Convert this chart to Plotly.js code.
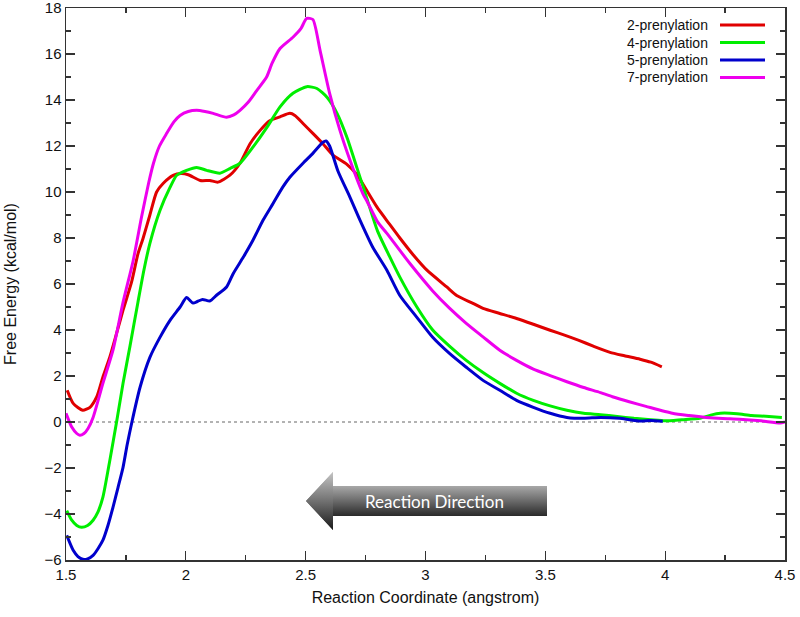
<!DOCTYPE html>
<html>
<head>
<meta charset="utf-8">
<script src="https://cdn.plot.ly/plotly-3.0.1.min.js"></script>
<style>html,body{margin:0;padding:0;background:#fff;}#chart{width:800px;height:617px;}</style>
</head>
<body>
<div id="chart"></div>
<script>
// ---- Data ----
const seriesNames = ["2-prenylation", "4-prenylation", "5-prenylation", "7-prenylation"];
const seriesColors = ["#e00000", "#00ee00", "#0000cc", "#ee00ee"];

const x2 = [1.505,1.53,1.57,1.60,1.628,1.654,1.683,1.711,1.738,1.774,1.8,1.822,1.85,1.878,1.905,1.947,1.98,2.01,2.06,2.10,2.134,2.184,2.226,2.268,2.31,2.35,2.393,2.434,2.455,2.489,2.53,2.572,2.614,2.672,2.714,2.75,2.797,2.85,2.893,2.95,3.006,3.09,3.13,3.198,3.24,3.31,3.38,3.45,3.52,3.58,3.64,3.70,3.77,3.83,3.895,3.94,3.986];
const y2 = [1.38,0.81,0.51,0.64,1.09,1.96,2.83,3.85,4.86,6.1,7.3,8.0,9.0,10.0,10.37,10.72,10.8,10.75,10.5,10.5,10.43,10.73,11.25,12.1,12.68,13.1,13.27,13.42,13.33,12.98,12.55,12.1,11.6,11.2,10.75,10.15,9.35,8.6,8.0,7.25,6.6,5.86,5.5,5.16,4.94,4.72,4.5,4.25,3.99,3.78,3.55,3.3,3.03,2.88,2.73,2.6,2.4];

const x4 = [1.503,1.524,1.545,1.565,1.59,1.613,1.633,1.654,1.683,1.711,1.738,1.767,1.80,1.825,1.85,1.892,1.934,1.962,2.003,2.045,2.087,2.142,2.184,2.226,2.28,2.339,2.393,2.447,2.505,2.547,2.589,2.631,2.672,2.714,2.756,2.80,2.85,2.893,2.964,3.03,3.10,3.17,3.24,3.31,3.38,3.45,3.52,3.59,3.66,3.73,3.80,3.87,3.94,4.0,4.07,4.145,4.19,4.23,4.3,4.36,4.42,4.487];
const y4 = [-3.85,-4.27,-4.5,-4.58,-4.5,-4.27,-3.92,-3.27,-1.66,0,1.68,3.3,5.2,6.6,7.77,9.2,10.2,10.73,10.94,11.07,10.94,10.82,11.02,11.25,11.95,12.82,13.7,14.29,14.58,14.5,14.12,13.42,12.38,11.05,9.7,8.3,7.2,6.3,5.0,4.0,3.3,2.68,2.15,1.68,1.25,0.94,0.7,0.51,0.38,0.32,0.24,0.16,0.1,0.05,0.1,0.16,0.3,0.38,0.36,0.28,0.25,0.2];

const x5 = [1.503,1.53,1.55,1.57,1.59,1.613,1.634,1.654,1.675,1.696,1.717,1.738,1.755,1.775,1.809,1.85,1.892,1.934,1.976,2.003,2.03,2.05,2.07,2.1,2.128,2.17,2.198,2.24,2.28,2.322,2.364,2.405,2.434,2.489,2.53,2.572,2.585,2.60,2.635,2.685,2.727,2.78,2.839,2.893,2.964,3.03,3.1,3.17,3.24,3.31,3.38,3.45,3.52,3.59,3.66,3.73,3.81,3.85,3.895,3.94,3.99];
const y5 = [-4.93,-5.58,-5.85,-5.97,-5.95,-5.8,-5.5,-5.14,-4.5,-3.71,-2.85,-1.97,-1.0,0,1.51,2.81,3.68,4.42,5.0,5.41,5.17,5.25,5.33,5.26,5.51,5.87,6.46,7.17,7.9,8.77,9.5,10.22,10.64,11.25,11.68,12.16,12.22,12.0,10.9,9.77,8.77,7.6,6.6,5.5,4.55,3.68,2.98,2.38,1.81,1.38,0.94,0.64,0.38,0.2,0.16,0.2,0.16,0.1,0.04,0.06,0.03];

const x7 = [1.50,1.524,1.545,1.558,1.575,1.592,1.613,1.654,1.696,1.738,1.78,1.815,1.845,1.865,1.89,1.92,1.95,1.976,2.01,2.045,2.08,2.114,2.17,2.2,2.226,2.26,2.295,2.337,2.36,2.393,2.447,2.48,2.504,2.53,2.56,2.6,2.643,2.685,2.74,2.756,2.8,2.839,2.935,3.03,3.10,3.17,3.24,3.31,3.38,3.45,3.52,3.59,3.66,3.73,3.78,3.85,3.92,4.03,4.1,4.17,4.24,4.31,4.4,4.48,4.5];
const y7 = [0.38,-0.22,-0.5,-0.58,-0.5,-0.28,0.2,1.68,3.12,5.2,7.0,8.9,10.4,11.25,12.0,12.55,13.05,13.33,13.5,13.55,13.5,13.42,13.25,13.35,13.55,13.9,14.4,15.0,15.6,16.24,16.73,17.1,17.55,17.5,16.16,14.29,12.68,11.38,9.9,9.6,8.7,8.2,6.89,5.7,4.95,4.29,3.7,3.12,2.68,2.3,2.02,1.75,1.5,1.28,1.1,0.88,0.68,0.38,0.28,0.2,0.15,0.12,0.05,-0.04,0.0];

const xTickVals = [1.5, 2, 2.5, 3, 3.5, 4, 4.5];
const yTickVals = [-6, -4, -2, 0, 2, 4, 6, 8, 10, 12, 14, 16, 18];
const xTitle = "Reaction Coordinate (angstrom)";
const yTitle = "Free Energy (kcal/mol)";
const arrowLabel = "Reaction Direction";

// ---- Build chart ----
const xs = [x2, x4, x5, x7];
const ys = [y2, y4, y5, y7];
const traces = xs.map((xv, i) => ({
  type: "scatter", mode: "lines", x: xv, y: ys[i], name: seriesNames[i],
  line: {color: seriesColors[i], width: 3, shape: "spline", smoothing: 0.6},
  showlegend: false, hoverinfo: "skip", cliponaxis: false
}));

const W = 800, H = 617, mL = 66, mR = 15, mT = 8, mB = 57;
const pw = W - mL - mR, ph = H - mT - mB;
const px2paper = px => (px - mL) / pw;
const py2paper = py => (H - mB - py) / ph;

const font = "'Liberation Sans', Arial, Helvetica, sans-serif";

// custom legend (text left, line sample right)
const legendRowsY = [25, 42.5, 60, 77.5];
const annotations = seriesNames.map((n, i) => ({
  xref: "paper", yref: "paper", x: px2paper(710), y: py2paper(legendRowsY[i]),
  xanchor: "right", yanchor: "middle", text: n, showarrow: false,
  font: {family: font, size: 14, color: "#111"}
}));
annotations.push({
  xref: "paper", yref: "paper", x: px2paper(434), y: py2paper(501),
  xanchor: "center", yanchor: "middle", text: arrowLabel, showarrow: false,
  font: {family: "Lato, 'Open Sans', sans-serif", size: 17, color: "#ffffff"}
});

const shapes = seriesNames.map((n, i) => ({
  type: "line", xref: "paper", yref: "paper",
  x0: px2paper(720), x1: px2paper(765),
  y0: py2paper(legendRowsY[i]), y1: py2paper(legendRowsY[i]),
  line: {color: seriesColors[i], width: 3}
}));
shapes.push({
  type: "line", xref: "paper", yref: "y", x0: 0, x1: 1, y0: 0, y1: 0,
  line: {color: "#666", width: 1, dash: "dot"}, layer: "below"
});

// gradient arrow as an SVG image
const aw = 243, ah = 60;
const svg = `<svg xmlns="http://www.w3.org/2000/svg" width="${aw}" height="${ah}" viewBox="0 0 ${aw} ${ah}">
<defs>
<linearGradient id="g" x1="0" y1="0" x2="0" y2="1">
<stop offset="0" stop-color="#c4c4c4"/>
<stop offset="0.45" stop-color="#7a7a7a"/>
<stop offset="1" stop-color="#1a1a1a"/>
</linearGradient>
<linearGradient id="b" x1="0" y1="0" x2="0" y2="1">
<stop offset="0" stop-color="#a8a8a8"/>
<stop offset="0.5" stop-color="#6a6a6a"/>
<stop offset="1" stop-color="#2a2a2a"/>
</linearGradient>
</defs>
<polygon points="1,30 28,1 28,15 242,15 242,45 28,45 28,59" fill="url(#g)"/>
<rect x="28" y="15" width="214" height="30" fill="url(#b)"/>
<polygon points="1,30 28,1 28,59" fill="url(#g)"/>
</svg>`;
const images = [{
  source: "data:image/svg+xml;charset=utf-8," + encodeURIComponent(svg),
  xref: "paper", yref: "paper",
  x: px2paper(305), y: py2paper(471),
  sizex: aw / pw, sizey: ah / ph,
  sizing: "stretch", xanchor: "left", yanchor: "top", layer: "above"
}];

const axisCommon = {
  showline: true, linecolor: "#333", linewidth: 1.5, mirror: "allticks",
  ticks: "inside", ticklen: 9, tickwidth: 1.2, tickcolor: "#333",
  showgrid: false, zeroline: false, ticklabeloverflow: "allow",
  tickfont: {family: font, size: 15, color: "#111"}
};

const layout = {
  width: W, height: H,
  margin: {l: mL, r: mR, t: mT, b: mB},
  paper_bgcolor: "#fff", plot_bgcolor: "#fff",
  showlegend: false,
  xaxis: Object.assign({}, axisCommon, {
    range: [1.5, 4.5], tickvals: xTickVals,
    minor: {dtick: 0.25, tick0: 1.5, ticks: "inside", ticklen: 5, tickcolor: "#333", tickwidth: 1.2, showgrid: false},
    title: {text: xTitle, font: {family: font, size: 16, color: "#111"}, standoff: 10}
  }),
  yaxis: Object.assign({}, axisCommon, {
    range: [-6.0001, 18.0001], tickvals: yTickVals,
    minor: {dtick: 1, tick0: 0, ticks: "inside", ticklen: 5, tickcolor: "#333", tickwidth: 1.2, showgrid: false},
    title: {text: yTitle, font: {family: font, size: 16, color: "#111"}, standoff: 24}
  }),
  annotations: annotations,
  shapes: shapes,
  images: images
};

Plotly.newPlot("chart", traces, layout, {staticPlot: true, displayModeBar: false});
</script>
</body>
</html>
